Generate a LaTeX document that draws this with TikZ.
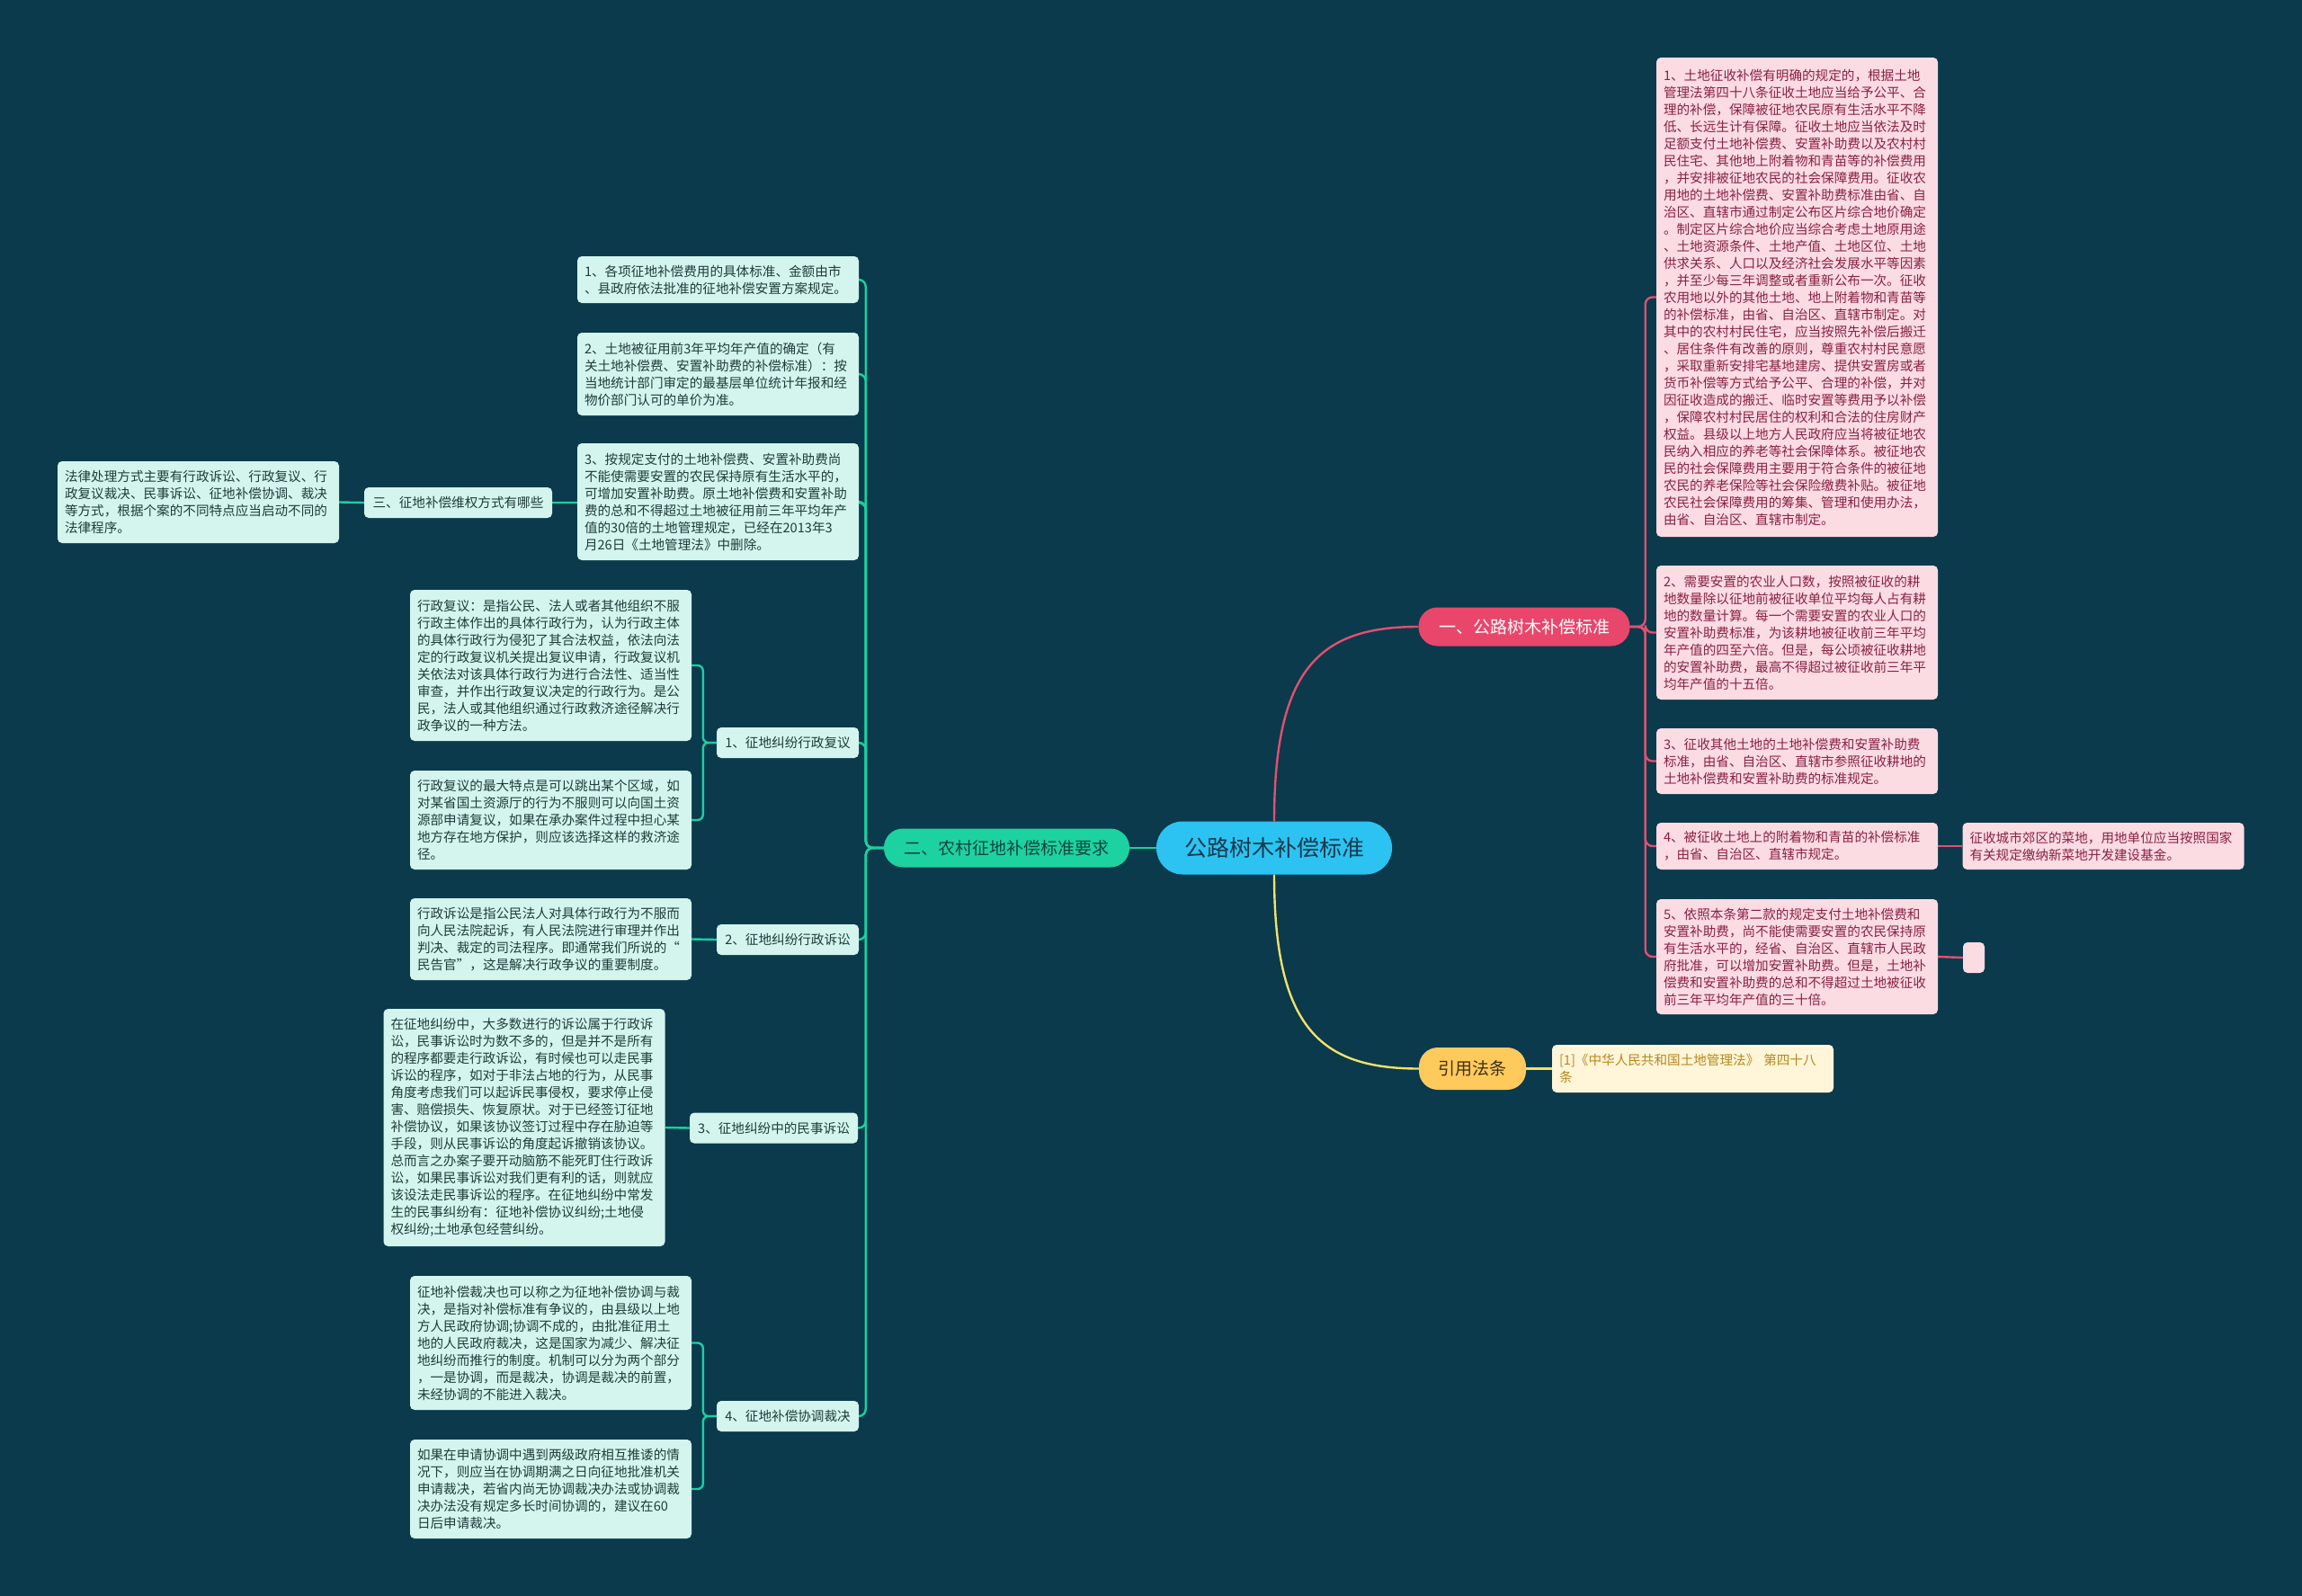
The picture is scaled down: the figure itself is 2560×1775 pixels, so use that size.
\documentclass[tikz,border=0pt]{standalone}
\usepackage{fontspec}
\setmainfont{Noto Sans CJK SC}
\setlength{\parindent}{0pt}

\definecolor{bgteal}{HTML}{0A3A4B}
\definecolor{rootblue}{HTML}{2CC3F2}
\definecolor{roottext}{HTML}{17384A}
\definecolor{branchred}{HTML}{E9466B}
\definecolor{branchgreen}{HTML}{1DD2A1}
\definecolor{branchgreentext}{HTML}{10443C}
\definecolor{branchyellow}{HTML}{FFCA5C}
\definecolor{branchyellowtext}{HTML}{3A3016}
\definecolor{leafpink}{HTML}{FCDCE3}
\definecolor{leafpinktext}{HTML}{892044}
\definecolor{leafmint}{HTML}{D3F5EE}
\definecolor{leafminttext}{HTML}{213B3A}
\definecolor{citefill}{HTML}{FFF5D8}
\definecolor{citetext}{HTML}{B4891E}
\definecolor{edgepink}{HTML}{E2506F}
\definecolor{edgegreen}{HTML}{1CCFA0}
\definecolor{edgeyellow}{HTML}{F1E06C}

\pgfdeclarelayer{back}
\pgfdeclarelayer{edges}
\pgfsetlayers{back,edges,main}

\tikzset{
  box/.style={rounded corners=5pt, align=left, inner xsep=8pt, inner ysep=7pt,
    font=\fontsize{14.6}{19}\selectfont},
  pinkleaf/.style={box, fill=leafpink, text=leafpinktext, text width=297pt},
  mintleaf/.style={box, fill=leafmint, text=leafminttext, text width=297pt},
  mintsub/.style={rounded corners=5pt, fill=leafmint, text=leafminttext, inner xsep=6pt,
    minimum height=34pt, font=\fontsize{14.6}{19}\selectfont},
  branch/.style={rounded corners=21pt, minimum height=43pt, font=\fontsize{19}{23}\selectfont},
  pinkedge/.style={draw=edgepink, line width=2.4pt},
  greenedge/.style={draw=edgegreen, line width=2.4pt},
  yellowedge/.style={draw=edgeyellow, line width=2.4pt}
}

\begin{document}
\begin{tikzpicture}[x=1pt,y=-1pt,line cap=round,line join=round]
  \useasboundingbox (0,0) rectangle (2560,1775);
  \begin{pgfonlayer}{back}
    \fill[bgteal] (0,0) rectangle (2560,1775);
  \end{pgfonlayer}

  % centre and main branches
  \node[rounded corners=29pt, fill=rootblue, text=roottext, minimum width=262pt, minimum height=59pt,
    font=\fontsize{25}{30}\selectfont] (root) at (1417,943) {公路树木补偿标准};
  \node[branch, fill=branchred, text=white, minimum width=235pt] (yi) at (1695,697) {一、公路树木补偿标准};
  \node[branch, fill=branchgreen, text=branchgreentext, minimum width=273pt] (er) at (1119.5,943) {二、农村征地补偿标准要求};
  \node[branch, fill=branchyellow, text=branchyellowtext, minimum width=119pt, minimum height=47pt] (yf) at (1637.5,1188.5) {引用法条};
  \node[box, fill=citefill, text=citetext, text width=297pt, minimum height=53pt] (ct) at (1882.5,1188.5)
    {[1]《中华人民共和国土地管理法》 第四十八\\条};

  % right side
  \node[pinkleaf, minimum height=533pt] (r1) at (1998.5,330.5)
    {1、土地征收补偿有明确的规定的，根据土地\\管理法第四十八条征收土地应当给予公平、合\\理的补偿，保障被征地农民原有生活水平不降\\低、长远生计有保障。征收土地应当依法及时\\足额支付土地补偿费、安置补助费以及农村村\\民住宅、其他地上附着物和青苗等的补偿费用\\，并安排被征地农民的社会保障费用。征收农\\用地的土地补偿费、安置补助费标准由省、自\\治区、直辖市通过制定公布区片综合地价确定\\。制定区片综合地价应当综合考虑土地原用途\\、土地资源条件、土地产值、土地区位、土地\\供求关系、人口以及经济社会发展水平等因素\\，并至少每三年调整或者重新公布一次。征收\\农用地以外的其他土地、地上附着物和青苗等\\的补偿标准，由省、自治区、直辖市制定。对\\其中的农村村民住宅，应当按照先补偿后搬迁\\、居住条件有改善的原则，尊重农村村民意愿\\，采取重新安排宅基地建房、提供安置房或者\\货币补偿等方式给予公平、合理的补偿，并对\\因征收造成的搬迁、临时安置等费用予以补偿\\，保障农村村民居住的权利和合法的住房财产\\权益。县级以上地方人民政府应当将被征地农\\民纳入相应的养老等社会保障体系。被征地农\\民的社会保障费用主要用于符合条件的被征地\\农民的养老保险等社会保险缴费补贴。被征地\\农民社会保障费用的筹集、管理和使用办法，\\由省、自治区、直辖市制定。};
  \node[pinkleaf, minimum height=149pt] (r2) at (1998.5,703.5)
    {2、需要安置的农业人口数，按照被征收的耕\\地数量除以征地前被征收单位平均每人占有耕\\地的数量计算。每一个需要安置的农业人口的\\安置补助费标准，为该耕地被征收前三年平均\\年产值的四至六倍。但是，每公顷被征收耕地\\的安置补助费，最高不得超过被征收前三年平\\均年产值的十五倍。};
  \node[pinkleaf, minimum height=73pt] (r3) at (1998.5,846.5)
    {3、征收其他土地的土地补偿费和安置补助费\\标准，由省、自治区、直辖市参照征收耕地的\\土地补偿费和安置补助费的标准规定。};
  \node[pinkleaf, minimum height=52pt] (r4) at (1998.5,941)
    {4、被征收土地上的附着物和青苗的补偿标准\\，由省、自治区、直辖市规定。};
  \node[pinkleaf, minimum height=128pt] (r5) at (1998.5,1064)
    {5、依照本条第二款的规定支付土地补偿费和\\安置补助费，尚不能使需要安置的农民保持原\\有生活水平的，经省、自治区、直辖市人民政\\府批准，可以增加安置补助费。但是，土地补\\偿费和安置补助费的总和不得超过土地被征收\\前三年平均年产值的三十倍。};
  \node[pinkleaf, minimum height=52pt] (f4) at (2339,941)
    {征收城市郊区的菜地，用地单位应当按照国家\\有关规定缴纳新菜地开发建设基金。};
  \node[rounded corners=5pt, fill=leafpink, inner sep=0pt, minimum width=24pt, minimum height=34pt] (g5) at (2195,1065) {};

  % left side
  \node[mintleaf, minimum height=52pt] (a1) at (798.5,311)
    {1、各项征地补偿费用的具体标准、金额由市\\、县政府依法批准的征地补偿安置方案规定。};
  \node[mintleaf, minimum height=92pt] (a2) at (798.5,416)
    {2、土地被征用前3年平均年产值的确定（有\\关土地补偿费、安置补助费的补偿标准）：按\\当地统计部门审定的最基层单位统计年报和经\\物价部门认可的单价为准。};
  \node[mintleaf, minimum height=130pt] (a3) at (798.5,558)
    {3、按规定支付的土地补偿费、安置补助费尚\\不能使需要安置的农民保持原有生活水平的，\\可增加安置补助费。原土地补偿费和安置补助\\费的总和不得超过土地被征用前三年平均年产\\值的30倍的土地管理规定，已经在2013年3\\月26日《土地管理法》中删除。};
  \node[mintsub, minimum width=209pt] (san) at (509.5,559) {三、征地补偿维权方式有哪些};
  \node[mintleaf, minimum height=91pt] (l1) at (220.5,558.5)
    {法律处理方式主要有行政诉讼、行政复议、行\\政复议裁决、民事诉讼、征地补偿协调、裁决\\等方式，根据个案的不同特点应当启动不同的\\法律程序。};

  \node[mintsub, minimum width=158pt] (s1) at (876,826) {1、征地纠纷行政复议};
  \node[mintleaf, minimum height=168pt] (b1) at (612.5,740)
    {行政复议：是指公民、法人或者其他组织不服\\行政主体作出的具体行政行为，认为行政主体\\的具体行政行为侵犯了其合法权益，依法向法\\定的行政复议机关提出复议申请，行政复议机\\关依法对该具体行政行为进行合法性、适当性\\审查，并作出行政复议决定的行政行为。是公\\民，法人或其他组织通过行政救济途径解决行\\政争议的一种方法。};
  \node[mintleaf, minimum height=110pt] (b2) at (612.5,912)
    {行政复议的最大特点是可以跳出某个区域，如\\对某省国土资源厅的行为不服则可以向国土资\\源部申请复议，如果在承办案件过程中担心某\\地方存在地方保护，则应该选择这样的救济途\\径。};

  \node[mintsub, minimum width=158pt] (s2) at (876,1045) {2、征地纠纷行政诉讼};
  \node[mintleaf, minimum height=91pt] (c1) at (612.5,1044.5)
    {行政诉讼是指公民法人对具体行政行为不服而\\向人民法院起诉，有人民法院进行审理并作出\\判决、裁定的司法程序。即通常我们所说的“\\民告官”，这是解决行政争议的重要制度。};

  \node[mintsub, minimum width=187pt] (s3) at (860.5,1254.5) {3、征地纠纷中的民事诉讼};
  \node[mintleaf, minimum height=264pt] (d1) at (583,1254)
    {在征地纠纷中，大多数进行的诉讼属于行政诉\\讼，民事诉讼时为数不多的，但是并不是所有\\的程序都要走行政诉讼，有时候也可以走民事\\诉讼的程序，如对于非法占地的行为，从民事\\角度考虑我们可以起诉民事侵权，要求停止侵\\害、赔偿损失、恢复原状。对于已经签订征地\\补偿协议，如果该协议签订过程中存在胁迫等\\手段，则从民事诉讼的角度起诉撤销该协议。\\总而言之办案子要开动脑筋不能死盯住行政诉\\讼，如果民事诉讼对我们更有利的话，则就应\\该设法走民事诉讼的程序。在征地纠纷中常发\\生的民事纠纷有：征地补偿协议纠纷;土地侵\\权纠纷;土地承包经营纠纷。};

  \node[mintsub, minimum width=158pt] (s4) at (876,1575) {4、征地补偿协调裁决};
  \node[mintleaf, minimum height=149pt] (e1) at (612.5,1493.5)
    {征地补偿裁决也可以称之为征地补偿协调与裁\\决，是指对补偿标准有争议的，由县级以上地\\方人民政府协调;协调不成的，由批准征用土\\地的人民政府裁决，这是国家为减少、解决征\\地纠纷而推行的制度。机制可以分为两个部分\\，一是协调，而是裁决，协调是裁决的前置，\\未经协调的不能进入裁决。};
  \node[mintleaf, minimum height=110pt] (e2) at (612.5,1656)
    {如果在申请协调中遇到两级政府相互推诿的情\\况下，则应当在协调期满之日向征地批准机关\\申请裁决，若省内尚无协调裁决办法或协调裁\\决办法没有规定多长时间协调的，建议在60\\日后申请裁决。};

  % connectors
  \begin{pgfonlayer}{edges}
    \draw[pinkedge] (root.north) .. controls +(0,-170) and +(-110,0) .. (yi.west);
    \draw[yellowedge] (root.south) .. controls +(0,170) and +(-110,0) .. (yf.west);
    \draw[greenedge] (root.west) -- (er.east);
    \draw[yellowedge] (yf.east) -- (ct.west);
    \foreach \n in {r1,r2,r3,r4,r5}
      \draw[pinkedge, rounded corners=8pt] (yi.east) -- ++(17,0) |- (\n.west);
    \draw[pinkedge] (r4.east) -- (f4.west);
    \draw[pinkedge] (r5.east) -- (g5.west);
    \foreach \n in {a1,a2,a3,san,s1,s2,s3,s4}
      \draw[greenedge, rounded corners=8pt] (er.west) -- ++(-20,0) |- (\n.east);
    \draw[greenedge] (san.west) -- (l1.east);
    \foreach \n in {b1,b2}
      \draw[greenedge, rounded corners=6pt] (s1.west) -- ++(-15,0) |- (\n.east);
    \draw[greenedge] (s2.west) -- (c1.east);
    \draw[greenedge] (s3.west) -- (d1.east);
    \foreach \n in {e1,e2}
      \draw[greenedge, rounded corners=6pt] (s4.west) -- ++(-15,0) |- (\n.east);
  \end{pgfonlayer}
\end{tikzpicture}
\end{document}
